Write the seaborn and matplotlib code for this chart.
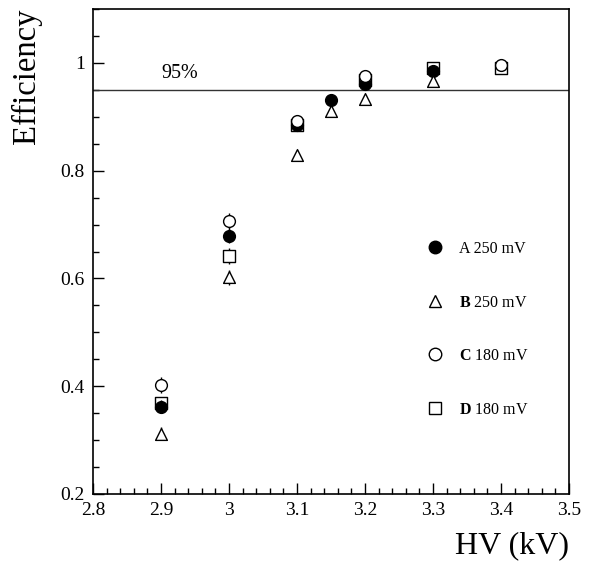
import numpy as np
import pandas as pd
import matplotlib
matplotlib.use("Agg")
import matplotlib.pyplot as plt
from matplotlib.lines import Line2D
from matplotlib.ticker import MultipleLocator, FixedLocator
import seaborn as sns

# ---- data ----
hv_A = [2.9, 3.0, 3.1, 3.15, 3.2, 3.3]
eff_A = [0.362, 0.679, 0.884, 0.931, 0.961, 0.985]
err_A = [0.012, 0.014, 0.010, 0.006, 0.005, 0.004]

hv_B = [2.9, 3.0, 3.1, 3.15, 3.2, 3.3]
eff_B = [0.312, 0.602, 0.829, 0.910, 0.933, 0.967]
err_B = [0.012, 0.014, 0.010, 0.006, 0.005, 0.006]

hv_C = [2.9, 3.0, 3.1, 3.2, 3.4]
eff_C = [0.402, 0.706, 0.892, 0.976, 0.997]
err_C = [0.015, 0.015, 0.010, 0.006, 0.003]

hv_D = [2.9, 3.0, 3.1, 3.2, 3.3, 3.4]
eff_D = [0.368, 0.642, 0.884, 0.969, 0.990, 0.991]
err_D = [0.012, 0.015, 0.010, 0.006, 0.004, 0.003]

labels = ["A 250 mV", r"$\mathbf{B}$ 250 mV", r"$\mathbf{C}$ 180 mV", r"$\mathbf{D}$ 180 mV"]
threshold = 0.95
threshold_label = "95%"
x_ticks = [2.8, 2.9, 3.0, 3.1, 3.2, 3.3, 3.4, 3.5]
x_ticklabels = ["2.8", "2.9", "3", "3.1", "3.2", "3.3", "3.4", "3.5"]
y_ticks = [0.2, 0.4, 0.6, 0.8, 1.0]
y_ticklabels = ["0.2", "0.4", "0.6", "0.8", "1"]

# ---- style ----
sns.set_theme(style="ticks")
plt.rcParams["font.family"] = ["Liberation Serif", "DejaVu Serif"]
plt.rcParams["mathtext.fontset"] = "custom"
plt.rcParams["mathtext.rm"] = "Liberation Serif"
plt.rcParams["mathtext.bf"] = "Liberation Serif:bold"
plt.rcParams["mathtext.it"] = "Liberation Serif:italic"
plt.rcParams["text.color"] = "black"
plt.rcParams["axes.labelcolor"] = "black"
plt.rcParams["xtick.color"] = "black"
plt.rcParams["ytick.color"] = "black"

fig = plt.figure(figsize=(5.89, 5.68), dpi=100)
ax = fig.add_axes([93/589, 1-494/568, 476/589, 485/568])

series = [
    ("D", hv_D, eff_D, err_D, "s", "white"),
    ("A", hv_A, eff_A, err_A, "o", "black"),
    ("B", hv_B, eff_B, err_B, "^", "white"),
    ("C", hv_C, eff_C, err_C, "o", "white"),
]

ms = 72
for i, (name, x, y, e, m, fc) in enumerate(series):
    ax.errorbar(x, y, yerr=e, fmt="none", ecolor="black", elinewidth=1.0,
                capsize=0, zorder=2 + i)
    df = pd.DataFrame({"hv": x, "eff": y})
    sns.scatterplot(data=df, x="hv", y="eff", marker=m, s=ms, color=fc,
                    edgecolor="black", linewidth=1.0, ax=ax, zorder=3 + i,
                    legend=False)

ax.axhline(threshold, color="#333333", lw=1.0, zorder=1)
ax.text(2.9, threshold + 0.012, threshold_label, fontsize=14.5, ha="left",
        va="bottom", color="black")

ax.set_xlim(2.8, 3.5)
ax.set_ylim(0.2, 1.1)
ax.xaxis.set_major_locator(FixedLocator(x_ticks))
ax.set_xticklabels(x_ticklabels)
ax.xaxis.set_minor_locator(MultipleLocator(0.02))
ax.yaxis.set_major_locator(FixedLocator(y_ticks))
ax.set_yticklabels(y_ticklabels)
ax.yaxis.set_minor_locator(MultipleLocator(0.05))
ax.tick_params(which="both", direction="in", top=False, right=False,
               labelsize=14, colors="black", width=1.0)
ax.tick_params(which="major", length=8, pad=6)
ax.tick_params(which="minor", length=4)
for s in ax.spines.values():
    s.set_linewidth(1.2)
    s.set_color("black")

ax.set_xlabel("")
ax.set_ylabel("")
fig.text(569/589, 1-553/568, "HV (kV)", fontsize=23, ha="right",
         va="baseline", color="black")
fig.text(11/589, 1-9/568, "Efficiency", fontsize=23.5, ha="left", va="top",
         rotation=90, color="black")

handles = []
for (name, x, y, e, m, fc) in [series[1], series[2], series[3], series[0]]:
    handles.append(Line2D([], [], ls="none", marker=m, markersize=9,
                          markerfacecolor=fc, markeredgecolor="black",
                          markeredgewidth=1.0))
leg = ax.legend(handles, labels, loc="upper left",
                bbox_to_anchor=(427/589, 1-241/568),
                bbox_transform=fig.transFigure, frameon=False,
                fontsize=11.5, handlelength=1.0, handletextpad=1.0,
                labelspacing=2.35, borderpad=0, borderaxespad=0)
for t in leg.get_texts():
    t.set_color("black")

fig.savefig("out.png", dpi=100)
